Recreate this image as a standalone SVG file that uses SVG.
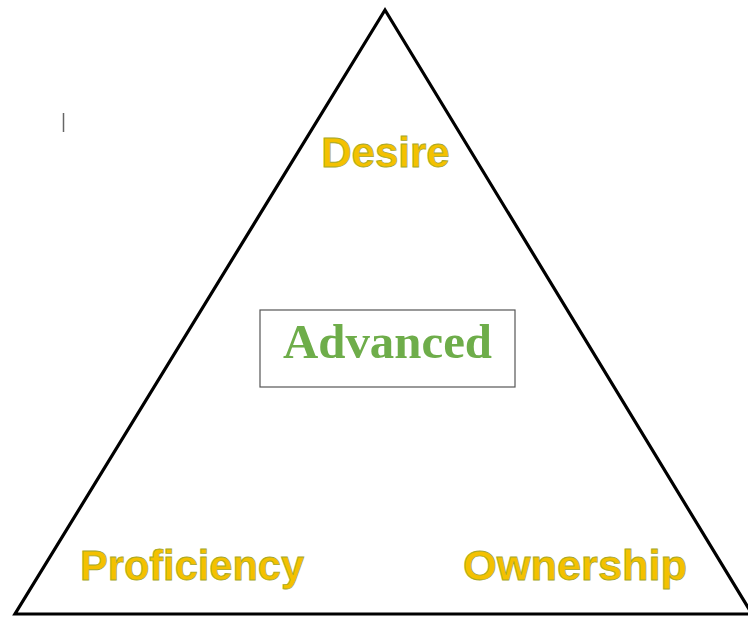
<svg xmlns="http://www.w3.org/2000/svg" width="748" height="618" viewBox="0 0 748 618">
<style>
.lbl{font-family:"Liberation Sans",Arial,sans-serif;font-weight:bold;font-size:42px;fill:#F4C100;stroke:#A7A82A;stroke-width:0.8px}
.adv{font-family:"Liberation Serif","Times New Roman",serif;font-weight:bold;font-size:49px;fill:#6EAD4A}
</style>
<rect width="748" height="618" fill="#ffffff"/>
<g id="triangle">
<polygon points="385,10 15,614 752,614" fill="none" stroke="#000000" stroke-width="3.2" stroke-linejoin="miter"/>
</g>
<line id="mark" x1="63.5" y1="113" x2="63.5" y2="132" stroke="#666666" stroke-width="1.5"/>
<g id="desire"><text class="lbl" x="385.5" y="167" text-anchor="middle">Desire</text></g>
<g id="advanced">
<rect x="260" y="310" width="255" height="77" fill="#ffffff" stroke="#555555" stroke-width="1.2"/>
<text class="adv" x="387.5" y="358" text-anchor="middle" textLength="209" lengthAdjust="spacingAndGlyphs">Advanced</text>
</g>
<g id="proficiency"><text class="lbl" x="80" y="580" textLength="224" lengthAdjust="spacingAndGlyphs">Proficiency</text></g>
<g id="ownership"><text class="lbl" x="463" y="580" textLength="224" lengthAdjust="spacingAndGlyphs">Ownership</text></g>
</svg>
